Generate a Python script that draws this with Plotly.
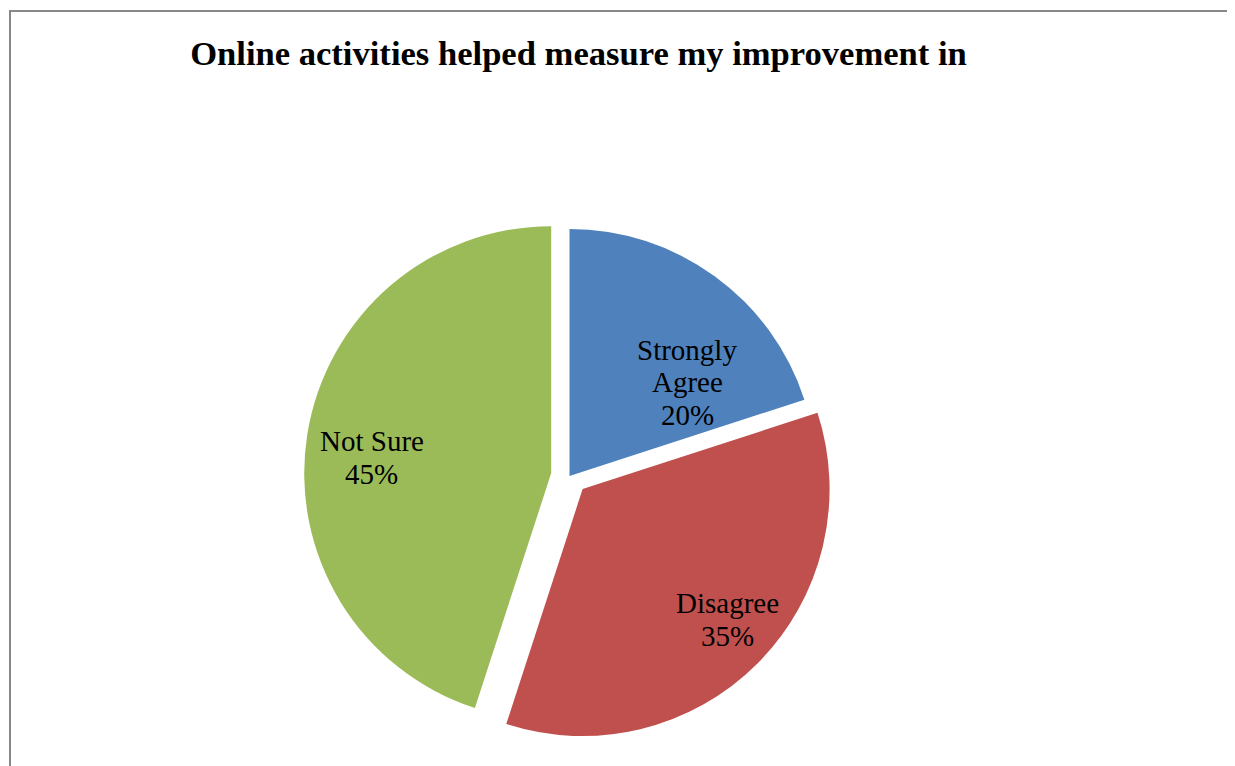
import math
import plotly.graph_objects as go

# Data
categories = ["Strongly Agree", "Disagree", "Not Sure"]
label_lines = [["Strongly", "Agree"], ["Disagree"], ["Not Sure"]]
values = [20, 35, 45]
colors = ["#4F81BD", "#C0504D", "#9BBB59"]
pulls = [0.0, 0.075, 0.075]

# label placement style (fraction of radius from slice centre, angle tweak in degrees)
label_rfrac = [0.61, 0.79, 0.73]
label_dang = [15.5, -3.0, -4.0]

W, H = 1235, 766
cx, cy, half = 561.5, 468.0, 265.5
FONT = "Liberation Serif, Times New Roman, serif"
LINE_H = 32.5

fig = go.Figure(go.Pie(
    labels=categories,
    values=values,
    textinfo="none",
    marker=dict(colors=colors, line=dict(width=0)),
    pull=pulls,
    sort=False,
    direction="clockwise",
    rotation=0,
    hoverinfo="label+percent",
    domain=dict(x=[(cx - half) / W, (cx + half) / W],
                y=[1 - (cy + half) / H, 1 - (cy - half) / H]),
))

# data labels derived from the values (slice bisector geometry)
r = half / (1 + max(pulls))
total = sum(values)
annotations = []
cum = 0.0
for cat_lines, v, p, rf, da in zip(label_lines, values, pulls, label_rfrac, label_dang):
    a0 = cum / total * 360.0
    cum += v
    a1 = cum / total * 360.0
    bis = math.radians((a0 + a1) / 2)
    scx = cx + p * r * math.sin(bis)
    scy = cy - p * r * math.cos(bis)
    la = math.radians((a0 + a1) / 2 + da)
    lx = scx + rf * r * math.sin(la)
    ly = scy - rf * r * math.cos(la)
    lines = cat_lines + [f"{round(v / total * 100)}%"]
    n = len(lines)
    for i, t in enumerate(lines):
        py = ly + (i - (n - 1) / 2) * LINE_H
        annotations.append(dict(
            text=t, x=lx / W, y=1 - py / H, xref="paper", yref="paper",
            xanchor="center", yanchor="middle", showarrow=False,
            font=dict(family=FONT, size=29, color="black"),
        ))

fig.update_layout(
    width=W, height=H,
    margin=dict(l=0, r=0, t=0, b=0),
    paper_bgcolor="white",
    plot_bgcolor="white",
    showlegend=False,
    title=dict(
        text="<b>Online activities helped measure my improvement in</b>",
        font=dict(family=FONT, size=34.6, color="black"),
        x=570.5 / W, xanchor="center", xref="paper",
        y=1 - 45 / H, yanchor="middle", yref="container",
    ),
    annotations=annotations,
    shapes=[dict(
        type="rect", xref="paper", yref="paper",
        x0=2 / W, x1=1.05, y0=-0.05, y1=1 - 3 / H,
        line=dict(color="#888888", width=2),
        fillcolor="rgba(0,0,0,0)", layer="below",
    )],
)

fig.write_html("out.html")
